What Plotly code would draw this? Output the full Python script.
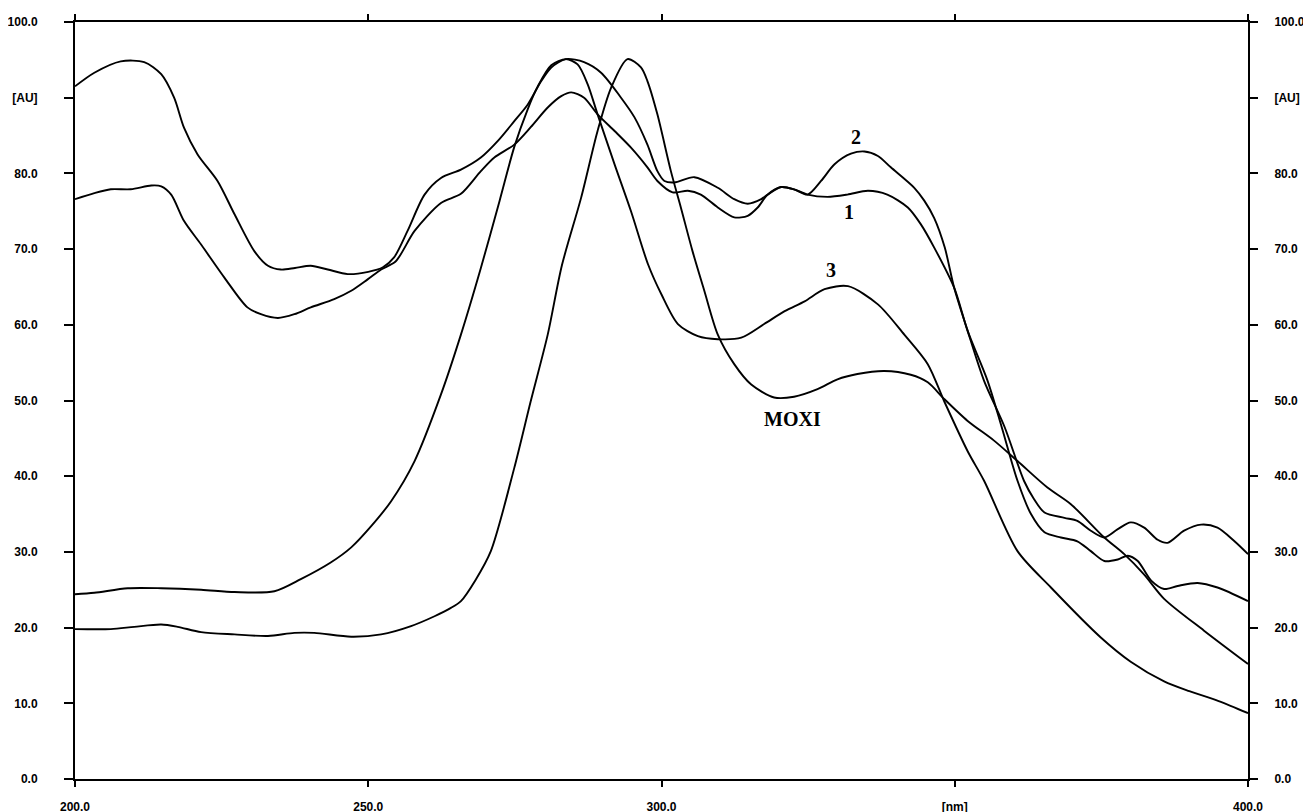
import plotly.graph_objects as go

# ---------------- data ----------------
wl_c2 = [200.0, 203.3, 207.8, 211.8, 214.7, 216.9, 218.6, 220.9, 224.3, 227.2, 230.6, 232.9,
         235.1, 237.5, 240.2, 243.1, 246.5, 250.0, 252.5, 254.4, 256.7, 259.6, 262.4, 265.8,
         269.2, 272.1, 274.9, 277.2, 279.5, 281.2, 283.7, 286.8, 289.7, 293.1, 295.4, 297.6,
         299.3, 300.5, 302.2, 305.6, 309.6, 312.4, 314.7, 317.0, 318.1, 320.4, 322.6, 324.9,
         327.2, 329.5, 332.3, 334.6, 336.9, 339.1, 343.1, 344.8, 346.5, 348.3, 349.9, 352.2,
         355.0, 358.5, 361.8, 363.5, 365.3, 368.7, 370.9, 373.2, 375.5, 377.8, 380.0, 382.3,
         384.6, 386.3, 389.1, 392.0, 394.8, 397.7, 400.0]
au_c2 = [91.5, 93.3, 94.8, 94.7, 93.1, 90.0, 86.0, 82.5, 79.0, 74.6, 69.7, 67.8,
         67.3, 67.5, 67.8, 67.3, 66.7, 67.0, 67.6, 68.9, 72.4, 77.2, 79.4, 80.5,
         82.1, 84.3, 86.9, 89.1, 92.2, 94.0, 95.1, 94.7, 93.3, 90.0, 87.4, 83.8,
         80.3, 79.0, 78.8, 79.5, 78.1, 76.6, 76.0, 76.6, 77.2, 78.2, 77.9, 77.2,
         79.0, 81.2, 82.6, 82.9, 82.3, 80.8, 78.1, 76.4, 74.1, 70.2, 64.9, 59.2,
         52.6, 46.5, 39.4, 37.0, 35.2, 34.5, 34.1, 32.8, 31.9, 33.0, 33.9, 33.2,
         31.6, 31.2, 32.8, 33.6, 33.2, 31.4, 29.7]

wl_c1 = [200.0, 203.3, 206.1, 209.5, 213.0, 214.7, 216.4, 218.6, 221.5, 225.5, 229.4, 231.7,
         234.6, 237.4, 240.2, 244.2, 247.1, 249.9, 252.2, 254.7, 257.9, 262.4, 265.8, 269.2,
         271.5, 274.9, 277.7, 280.6, 282.9, 284.6, 286.8, 289.1, 292.0, 294.8, 297.6, 299.3,
         301.9, 304.5, 306.7, 309.6, 312.4, 314.7, 316.4, 318.1, 320.4, 322.6, 324.9, 328.3,
         331.7, 335.2, 338.5, 342.0, 344.2, 346.5, 349.9, 352.2, 355.6, 358.0, 360.7, 363.0,
         365.3, 368.1, 370.9, 373.2, 375.5, 377.8, 379.5, 381.2, 383.5, 385.7, 388.0, 391.4,
         394.8, 400.0]
au_c1 = [76.6, 77.4, 77.9, 77.9, 78.4, 78.3, 77.2, 73.7, 70.6, 66.2, 62.3, 61.4,
         60.9, 61.4, 62.3, 63.4, 64.5, 66.0, 67.3, 68.4, 72.4, 76.1, 77.3, 80.3,
         82.1, 83.8, 86.1, 88.7, 90.2, 90.7, 90.0, 87.8, 85.6, 83.4, 80.8, 79.0,
         77.5, 77.7, 77.2, 75.5, 74.2, 74.4, 75.5, 77.2, 78.2, 77.9, 77.2, 76.9,
         77.2, 77.7, 77.2, 75.5, 73.3, 70.2, 64.9, 59.2, 52.6, 46.5, 39.4, 35.0,
         32.6, 31.9, 31.4, 30.1, 28.8, 29.0, 29.5, 28.8, 26.2, 25.1, 25.5, 25.9,
         25.3, 23.5]

wl_c3 = [200.0, 203.3, 209.0, 214.7, 221.5, 227.2, 234.0, 238.5, 243.6, 247.1, 250.5, 253.9,
         257.9, 262.4, 265.8, 269.2, 272.4, 274.9, 277.2, 278.9, 281.2, 283.7, 285.7, 287.4,
         289.1, 292.0, 294.8, 297.7, 300.0, 302.8, 306.2, 309.6, 313.6, 317.5, 321.0, 324.4,
         327.8, 331.8, 336.9, 341.4, 345.4, 348.2, 352.2, 355.0, 360.7, 366.4, 374.9, 380.0,
         385.7, 390.0, 395.0, 400.0]
au_c3 = [24.4, 24.6, 25.2, 25.2, 25.0, 24.7, 24.8, 26.4, 28.6, 30.6, 33.4, 36.7,
         42.0, 50.8, 58.7, 67.5, 76.4, 83.5, 88.5, 91.5, 94.3, 95.1, 94.4, 91.8,
         87.8, 81.2, 75.0, 68.0, 64.0, 60.1, 58.5, 58.1, 58.3, 60.1, 61.8, 63.1,
         64.7, 65.1, 62.7, 58.7, 54.8, 49.9, 43.3, 39.4, 30.1, 25.3, 18.7, 15.5,
         12.9, 11.6, 10.3, 8.7]

wl_moxi = [200.0, 206.1, 210.1, 214.7, 217.5, 221.5, 227.2, 232.9, 237.4, 240.8, 247.1, 252.2,
           257.3, 261.3, 264.1, 265.8, 268.3, 270.9, 274.9, 277.7, 280.6, 283.0, 286.3, 289.1,
           291.4, 294.2, 296.5, 297.6, 299.3, 301.6, 303.3, 305.3, 307.3, 309.6, 312.4, 315.3,
           319.2, 322.6, 326.6, 330.0, 333.4, 338.0, 342.5, 345.4, 348.2, 352.2, 356.7, 360.7,
           365.8, 369.8, 375.5, 378.9, 382.3, 385.7, 392.5, 400.0]
au_moxi = [19.8, 19.8, 20.1, 20.4, 20.1, 19.4, 19.1, 18.9, 19.3, 19.3, 18.8, 19.1,
           20.2, 21.5, 22.6, 23.5, 26.3, 30.1, 41.1, 49.9, 58.7, 67.8, 76.8, 85.6,
           91.3, 95.1, 94.0, 92.2, 87.8, 80.3, 75.5, 69.7, 64.5, 58.7, 54.8, 52.1,
           50.4, 50.5, 51.5, 52.8, 53.5, 53.9, 53.4, 52.4, 50.2, 47.3, 44.7, 42.0,
           38.5, 36.3, 31.9, 29.7, 27.0, 23.8, 19.6, 15.2]

x_ticks = [200, 250, 300, 350, 400]
x_ticktext = ["200.0", "250.0", "300.0", "[nm]", "400.0"]
y_ticks = [0, 10, 20, 30, 40, 50, 60, 70, 80, 90, 100]
y_ticktext = ["0.0", "10.0", "20.0", "30.0", "40.0", "50.0", "60.0", "70.0", "80.0", "[AU]", "100.0"]

labels = ["2", "1", "3", "MOXI"]
label_x = [333.2, 332.0, 328.9, 322.4]
label_y = [84.8, 74.9, 67.3, 47.5]

# ---------------- figure ----------------
fig = go.Figure()
line = dict(color="black", width=1.9, shape="spline", smoothing=0.8)
for name, xs, ys, ax in [("2", wl_c2, au_c2, "y"), ("1", wl_c1, au_c1, "y"),
                         ("3", wl_c3, au_c3, "y"), ("MOXI", wl_moxi, au_moxi, "y2")]:
    fig.add_trace(go.Scatter(x=xs, y=ys, mode="lines", name=name, line=line, yaxis=ax,
                             showlegend=False, hoverinfo="skip"))

for t, lx, ly in zip(labels, label_x, label_y):
    fig.add_annotation(x=lx, y=ly, text=t, showarrow=False,
                       font=dict(family="Liberation Serif", size=20, color="black", weight="bold"))

tickfont = dict(family="Liberation Sans", size=12, color="black", weight="bold")

fig.update_layout(
    width=1304, height=805,
    margin=dict(l=67, r=64, t=14, b=34, autoexpand=False),
    paper_bgcolor="white", plot_bgcolor="white",
    xaxis=dict(range=[200, 400], tickvals=x_ticks, ticktext=x_ticktext,
               showgrid=False, zeroline=False, showline=True, linecolor="black", linewidth=2,
               mirror="ticks", ticks="outside", ticklen=6, tickwidth=2, tickcolor="black",
               tickfont=tickfont, ticklabelstandoff=10, automargin=False),
    yaxis=dict(range=[0, 100], tickvals=y_ticks, ticktext=y_ticktext,
               showgrid=False, zeroline=False, showline=True, linecolor="black", linewidth=2,
               mirror=True, ticks="outside", ticklen=9, tickwidth=2, tickcolor="black",
               tickfont=tickfont, ticklabelstandoff=24, automargin=False),
    yaxis2=dict(range=[0, 100], tickvals=y_ticks, ticktext=y_ticktext, overlaying="y",
                side="right", anchor="x",
                showgrid=False, zeroline=False, showline=False,
                ticks="outside", ticklen=9, tickwidth=2, tickcolor="black",
                tickfont=tickfont, ticklabelstandoff=14, automargin=False),
)

fig.write_html("out.html")
